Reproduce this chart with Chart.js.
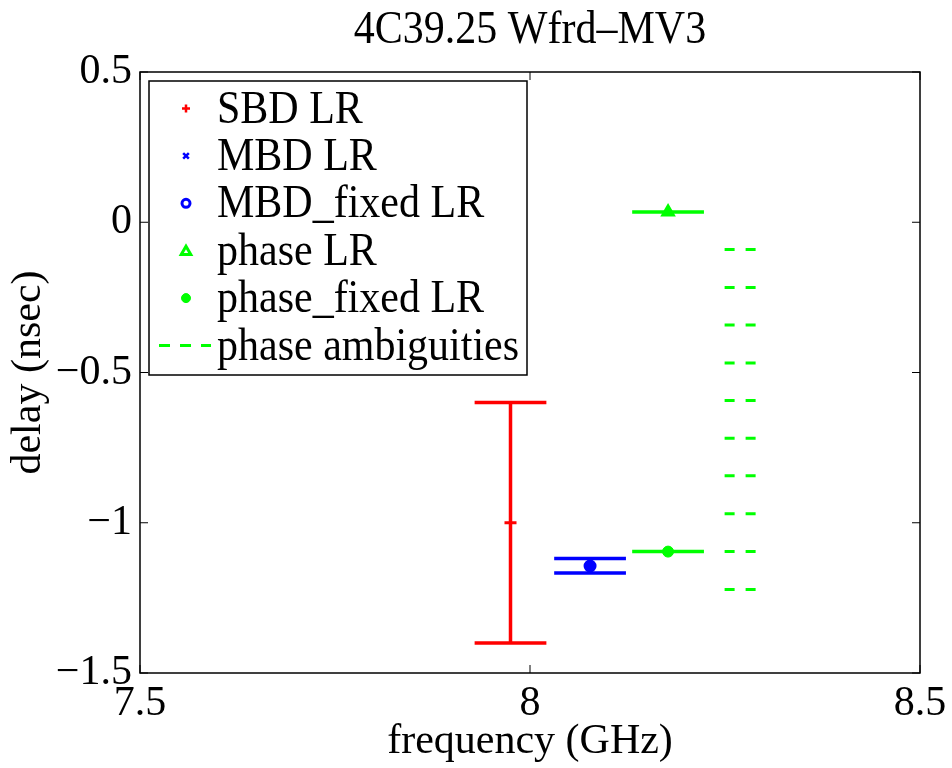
<!DOCTYPE html>
<html lang="en">
<head>
<meta charset="UTF-8">
<title>4C39.25 Wfrd-MV3</title>
<script src="https://cdn.jsdelivr.net/npm/chart.js"></script>
<style>
  body { margin: 0; background: #ffffff; }
  #wrap { width: 952px; height: 768px; }
</style>
</head>
<body>
<div id="wrap"><canvas id="delayChart" width="952" height="768"></canvas></div>
<script>
// values: frequency in GHz, delay in nsec
const sbdFreq = [7.975];
const sbdDelay = [-1.0];
const sbdErr = [0.40];

const mbdFreq = [8.077];
const mbdDelay = [-1.143];
const mbdErr = [0.024];
const mbdFixedDelay = [-1.144];

const phaseFreq = [8.177];
const phaseDelay = [0.034];
const phaseErr = [0.0];
const phaseFixedDelay = [-1.096];

const ambigFreq = [8.27];
const ambigDelay = [-0.091, -0.217, -0.342, -0.468, -0.593, -0.719, -0.844, -0.970, -1.096, -1.222];

const xTicks = [7.5, 8, 8.5];
const yTicks = [0.5, 0, -0.5, -1, -1.5];

const legendLabels = ['SBD LR', 'MBD LR', 'MBD_fixed LR', 'phase LR', 'phase_fixed LR', 'phase ambiguities'];

const RED = '#ff0000', BLUE = '#0000ff', GREEN = '#00ff00';
const FONT = '"Liberation Serif", "Times New Roman", serif';
const CAP = 0.046;      // half width of error bar caps (GHz)
const DASH_HALF = 0.0205;

// vertical bar + two caps, broken with null points
function errorBar(f, d, e) {
  return [
    {x: f, y: d + e}, {x: f, y: d - e}, {x: f, y: null},
    {x: f - CAP, y: d + e}, {x: f + CAP, y: d + e}, {x: f, y: null},
    {x: f - CAP, y: d - e}, {x: f + CAP, y: d - e}
  ];
}

function pts(freqs, vals) {
  return vals.map((v, i) => ({x: freqs[Math.min(i, freqs.length - 1)], y: v}));
}

function lineSet(data, color, width, dash) {
  return {
    type: 'line', data: data, borderColor: color, borderWidth: width,
    borderDash: dash || [], pointRadius: 0, fill: false, spanGaps: false, tension: 0
  };
}

const datasets = [];

// markers (first = drawn on top)
datasets.push({label: 'phase_fixed LR', data: pts(phaseFreq, phaseFixedDelay), pointStyle: 'circle',
  pointRadius: 5.5, backgroundColor: GREEN, borderColor: GREEN, borderWidth: 1});
datasets.push({label: 'phase LR', data: pts(phaseFreq, phaseDelay), pointStyle: 'triangle',
  pointRadius: 7, backgroundColor: GREEN, borderColor: GREEN, borderWidth: 2});
datasets.push({label: 'MBD_fixed LR', data: pts(mbdFreq, mbdFixedDelay), pointStyle: 'circle',
  pointRadius: 5.5, backgroundColor: BLUE, borderColor: BLUE, borderWidth: 2});
datasets.push({label: 'MBD LR', data: pts(mbdFreq, mbdDelay), pointStyle: 'crossRot',
  pointRadius: 4, borderColor: BLUE, borderWidth: 2});
datasets.push({label: 'SBD LR', data: pts(sbdFreq, sbdDelay), pointStyle: 'cross',
  pointRadius: 6, borderColor: RED, borderWidth: 3});

// error bars
sbdFreq.forEach((f, i) => datasets.push(lineSet(errorBar(f, sbdDelay[i], sbdErr[i]), RED, 3.5)));
mbdFreq.forEach((f, i) => datasets.push(lineSet(errorBar(f, mbdDelay[i], mbdErr[i]), BLUE, 3.5)));
phaseFreq.forEach((f, i) => datasets.push(lineSet(errorBar(f, phaseDelay[i], phaseErr[i]), GREEN, 3.5)));
phaseFreq.forEach((f, i) => datasets.push(lineSet(errorBar(f, phaseFixedDelay[i], 0), GREEN, 3.5)));

// phase ambiguities: short dashed lines
ambigDelay.forEach(d => datasets.push(lineSet(
  [{x: ambigFreq[0] - DASH_HALF, y: d}, {x: ambigFreq[0] + DASH_HALF, y: d}], GREEN, 3, [10, 11])));

function fmt(v) {
  return v < 0 ? '\u2212' + Math.abs(v) : String(v);
}

// text a little taller than wide, like the original
function tallText(ctx, text, x, y) {
  ctx.save();
  ctx.translate(x, y);
  ctx.scale(1, 1.08);
  ctx.fillText(text, 0, 0);
  ctx.restore();
}

// box, inward ticks, title and legend in MATLAB style
const matlabFrame = {
  id: 'matlabFrame',
  afterDatasetsDraw(chart) {
    const {ctx, chartArea: a, scales: {x, y}} = chart;
    ctx.save();
    ctx.strokeStyle = '#000';
    ctx.lineWidth = 1.5;
    ctx.strokeRect(a.left, a.top, a.right - a.left, a.bottom - a.top);
    ctx.lineWidth = 1;
    ctx.beginPath();
    xTicks.forEach(t => {
      const px = x.getPixelForValue(t);
      ctx.moveTo(px, a.bottom); ctx.lineTo(px, a.bottom - 8);
      ctx.moveTo(px, a.top); ctx.lineTo(px, a.top + 8);
    });
    yTicks.forEach(t => {
      const py = y.getPixelForValue(t);
      ctx.moveTo(a.left, py); ctx.lineTo(a.left + 8, py);
      ctx.moveTo(a.right, py); ctx.lineTo(a.right - 8, py);
    });
    ctx.stroke();

    // title
    ctx.fillStyle = '#000';
    ctx.font = '42px ' + FONT;
    ctx.textAlign = 'center';
    ctx.textBaseline = 'alphabetic';
    tallText(ctx, '4C39.25 Wfrd\u2013MV3', (a.left + a.right) / 2, 43);

    // legend
    const lx = 149, ly = 81, lw = 378, lh = 294;
    ctx.fillStyle = '#fff';
    ctx.fillRect(lx, ly, lw, lh);
    ctx.lineWidth = 1.5;
    ctx.strokeStyle = '#000';
    ctx.strokeRect(lx, ly, lw, lh);

    const mx = 186;
    legendLabels.forEach((label, i) => {
      const base = 122.5 + i * 47.4;
      const my = base - 14;
      ctx.save();
      if (i === 0) {
        ctx.strokeStyle = RED; ctx.lineWidth = 2.5;
        Chart.helpers.drawPoint(ctx, {pointStyle: 'cross', radius: 4, borderWidth: 2.5}, mx, my);
      } else if (i === 1) {
        ctx.strokeStyle = BLUE; ctx.lineWidth = 2.5;
        Chart.helpers.drawPoint(ctx, {pointStyle: 'crossRot', radius: 4, borderWidth: 2.5}, mx, my);
      } else if (i === 2) {
        ctx.strokeStyle = BLUE; ctx.fillStyle = '#fff'; ctx.lineWidth = 3;
        Chart.helpers.drawPoint(ctx, {pointStyle: 'circle', radius: 4, borderWidth: 3}, mx, my);
      } else if (i === 3) {
        ctx.strokeStyle = GREEN; ctx.fillStyle = '#fff'; ctx.lineWidth = 3;
        Chart.helpers.drawPoint(ctx, {pointStyle: 'triangle', radius: 5.5, borderWidth: 3}, mx, my + 1);
      } else if (i === 4) {
        ctx.strokeStyle = GREEN; ctx.fillStyle = GREEN; ctx.lineWidth = 1;
        Chart.helpers.drawPoint(ctx, {pointStyle: 'circle', radius: 4.5, borderWidth: 1}, mx, my);
      } else {
        ctx.strokeStyle = GREEN; ctx.lineWidth = 3;
        ctx.setLineDash([11, 10]);
        ctx.beginPath(); ctx.moveTo(159, my); ctx.lineTo(211, my); ctx.stroke();
      }
      ctx.restore();
      ctx.fillStyle = '#000';
      ctx.textAlign = 'left';
      tallText(ctx, label, 217, base);
    });
    ctx.restore();
  }
};

new Chart(document.getElementById('delayChart'), {
  type: 'scatter',
  data: {datasets: datasets},
  options: {
    responsive: false,
    animation: false,
    layout: {padding: {top: 72, right: 32, bottom: 0, left: 0}},
    plugins: {legend: {display: false}, tooltip: {enabled: false}, title: {display: false}},
    scales: {
      x: {
        type: 'linear', min: 7.5, max: 8.5,
        afterBuildTicks: s => { s.ticks = xTicks.map(v => ({value: v})); },
        afterFit: s => { s.height = 95; s.paddingLeft = 0; s.paddingRight = 0; },
        grid: {display: false, drawTicks: false},
        border: {display: false},
        ticks: {color: '#000', padding: 10, maxRotation: 0, font: {family: FONT, size: 42, lineHeight: 1}, callback: v => fmt(v)},
        title: {display: true, text: 'frequency (GHz)', color: '#000', padding: {top: 0, bottom: 5},
          font: {family: FONT, size: 42, lineHeight: 1}}
      },
      y: {
        type: 'linear', min: -1.5, max: 0.5,
        afterBuildTicks: s => { s.ticks = yTicks.map(v => ({value: v})); },
        afterFit: s => { s.width = 140; },
        grid: {display: false, drawTicks: false},
        border: {display: false},
        ticks: {color: '#000', padding: 8, font: {family: FONT, size: 42, lineHeight: 1}, callback: v => fmt(v)},
        title: {display: true, text: 'delay (nsec)', color: '#000', padding: {top: 8, bottom: 0},
          font: {family: FONT, size: 42, lineHeight: 1}}
      }
    }
  },
  plugins: [matlabFrame]
});
</script>
</body>
</html>
